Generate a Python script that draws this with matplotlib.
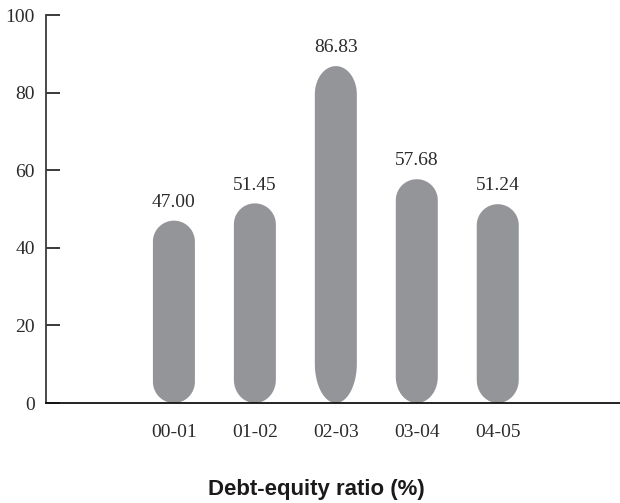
import matplotlib
matplotlib.use("Agg")
import numpy as np
import matplotlib.pyplot as plt
from matplotlib.patches import Polygon

periods = ["00-01", "01-02", "02-03", "03-04", "04-05"]
ratios = [47.00, 51.45, 86.83, 57.68, 51.24]
y_ticks = [0, 20, 40, 60, 80, 100]

serif = ["Liberation Serif", "DejaVu Serif"]
title_family = ["Liberation Sans Narrow", "Liberation Sans", "DejaVu Sans"]

W, H, DPI = 620, 503, 100
fig = plt.figure(figsize=(W / DPI, H / DPI), dpi=DPI)
ax = fig.add_axes([46 / W, 1 - 403 / H, 1 - 46 / W, (403 - 15) / H])

XMIN, XMAX = -1.58, 5.51
ax.set_xlim(XMIN, XMAX)
ax.set_ylim(0, 100)

bar_color = "#939598"
ink = "#2b2b2b"

# pill-shaped bars: straight sides with an elliptical cap at each end;
# the caps stretch a little on taller bars
bbox = ax.get_window_extent(renderer=fig.canvas.get_renderer())
x_per_px = (XMAX - XMIN) / bbox.width
y_per_px = 100 / bbox.height
bar_px = 42
half_w = bar_px / 2 * x_per_px
half_px = bar_px / 2

bottom_t = np.linspace(np.pi, 2 * np.pi, 60)
top_t = np.linspace(0, np.pi, 60)

for i, v in enumerate(ratios):
    h_px = v / y_per_px
    top_r = half_px * max(1.0, h_px / 250) * y_per_px
    bot_r = half_px * max(1.0, h_px / 180) * y_per_px
    xs = np.concatenate([i + half_w * np.cos(bottom_t), i + half_w * np.cos(top_t)])
    ys = np.concatenate([bot_r + bot_r * np.sin(bottom_t),
                         (v - top_r) + top_r * np.sin(top_t)])
    ax.add_patch(Polygon(np.column_stack([xs, ys]), closed=True,
                         facecolor=bar_color, edgecolor="none", zorder=2))
    ax.annotate(f"{v:.2f}", (i, v), xytext=(0, 7), textcoords="offset points",
                ha="center", va="bottom", fontsize=14, family=serif, color=ink)

ax.set_yticks(y_ticks)
ax.set_yticklabels([str(t) for t in y_ticks], family=serif, fontsize=14, color=ink)
ax.set_xticks(range(len(periods)))
ax.set_xticklabels(periods, family=serif, fontsize=14, color=ink)

ax.tick_params(axis="y", direction="in", length=10, width=1.3, color=ink, pad=8)
ax.tick_params(axis="x", length=0, pad=15)

for side in ("top", "right"):
    ax.spines[side].set_visible(False)
ax.spines["left"].set_color("#3a3a3a")
ax.spines["bottom"].set_color("#111111")
for side in ("left", "bottom"):
    ax.spines[side].set_linewidth(1.3)
    ax.spines[side].set_zorder(3)

fig.text(316 / W, 1 - 489 / H, "Debt-equity ratio (%)", ha="center", va="center",
         fontsize=16, fontweight="bold", family=title_family, color="#1a1a1a")

fig.savefig("out.png", dpi=DPI)
